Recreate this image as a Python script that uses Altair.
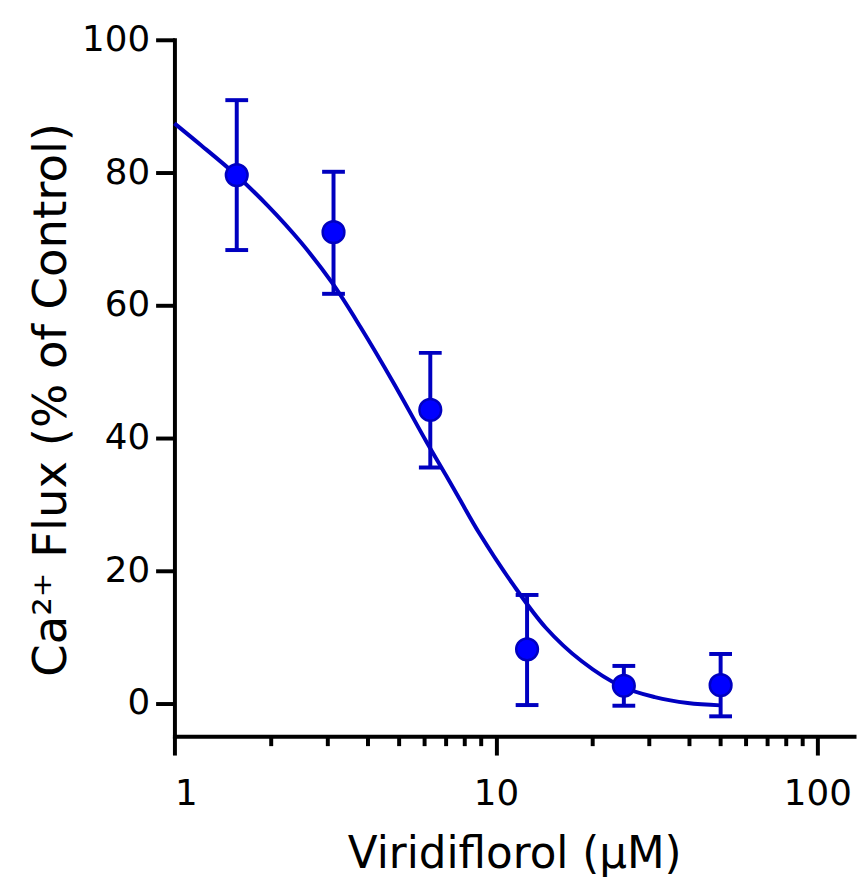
import altair as alt
import pandas as pd

# ---- data ----
conc = [1.5625, 3.125, 6.25, 12.5, 25, 50]
mean = [79.6, 71.0, 44.2, 8.1, 2.6, 2.7]
err_hi = [90.9, 80.1, 52.8, 16.3, 5.6, 7.4]
err_lo = [68.3, 61.7, 35.5, -0.3, -0.4, -2.0]

curve_x = [1.0, 1.21, 1.54, 1.95, 2.47, 3.1, 3.79, 4.8, 6.08, 7.0, 7.7, 8.88,
           11.26, 14.27, 18.5, 24.6, 31.2, 39.5, 50.0]
curve_y = [87.4, 84.1, 79.8, 75.0, 69.5, 63.3, 56.7, 48.3, 39.4, 34.3, 30.8, 25.6,
           18.0, 11.4, 6.3, 2.5, 0.9, 0.0, -0.35]

x_major = [1, 10, 100]
x_minor = [2, 3, 4, 5, 6, 7, 8, 9, 20, 30, 40, 50, 60, 70, 80, 90]
y_ticks = [0, 20, 40, 60, 80, 100]

pts = pd.DataFrame({"x": conc, "y": mean, "lo": err_lo, "hi": err_hi})
crv = pd.DataFrame({"x": curve_x, "y": curve_y})
mnr = pd.DataFrame({"x": x_minor})

LINE = "#0000C0"
FILL = "#0000FF"
FONT = "DejaVu Sans"

x_scale = alt.Scale(type="log", domain=[1, 130], nice=False)
y_scale = alt.Scale(domain=[-5, 100], nice=False, zero=False)

x_axis = alt.Axis(
    values=x_major, format="~g", grid=False,
    domainColor="black", domainWidth=4, domainCap="square",
    tickColor="black", tickWidth=4, tickSize=19,
    labelFont=FONT, labelFontSize=36, labelColor="black", labelPadding=22,
    title="Viridiflorol (µM)", titleFont=FONT, titleFontSize=44,
    titleFontWeight="normal", titleColor="black", titlePadding=22,
)
y_axis = alt.Axis(
    values=y_ticks, grid=False,
    domainColor="black", domainWidth=4, domainCap="square",
    tickColor="black", tickWidth=4, tickSize=19,
    labelFont=FONT, labelFontSize=36, labelColor="black", labelPadding=6,
    title="Ca²⁺ Flux (% of Control)", titleFont=FONT, titleFontSize=47,
    titleFontWeight="normal", titleColor="black", titlePadding=6, titleY=363,
)


def X(field="x"):
    return alt.X(f"{field}:Q", scale=x_scale, axis=x_axis)


def Y(field="y"):
    return alt.Y(f"{field}:Q", scale=y_scale, axis=y_axis)


curve = alt.Chart(crv).mark_line(color=LINE, strokeWidth=4, interpolate="catmull-rom").encode(
    x=X(), y=Y()
)
bars = alt.Chart(pts).mark_rule(color=LINE, strokeWidth=4).encode(
    x=X(), y=Y("lo"), y2="hi:Q"
)
cap_hi = alt.Chart(pts).mark_tick(color=LINE, orient="horizontal", size=23, thickness=4,
                                  opacity=1).encode(x=X(), y=Y("hi"))
cap_lo = alt.Chart(pts).mark_tick(color=LINE, orient="horizontal", size=23, thickness=4,
                                  opacity=1).encode(x=X(), y=Y("lo"))
dots = alt.Chart(pts).mark_point(
    filled=True, fill=FILL, stroke=LINE, strokeWidth=2.5, size=480, opacity=1, shape="circle"
).encode(x=X(), y=Y())
minor = alt.Chart(mnr).mark_rule(color="black", strokeWidth=4).encode(
    x=X(), y=alt.value(703), y2=alt.value(713)
)

chart = alt.layer(curve, bars, cap_hi, cap_lo, dots, minor).properties(
    width=686, height=703,
    view=alt.ViewBackground(stroke="transparent", strokeWidth=0),
    autosize=alt.AutoSizeParams(type="none"),
    padding={"left": 168, "top": 28, "right": 3, "bottom": 138},
).configure_view(stroke="transparent", strokeWidth=0).configure(background="white")

chart.save("out.html", embed_options={"renderer": "svg", "actions": False})
